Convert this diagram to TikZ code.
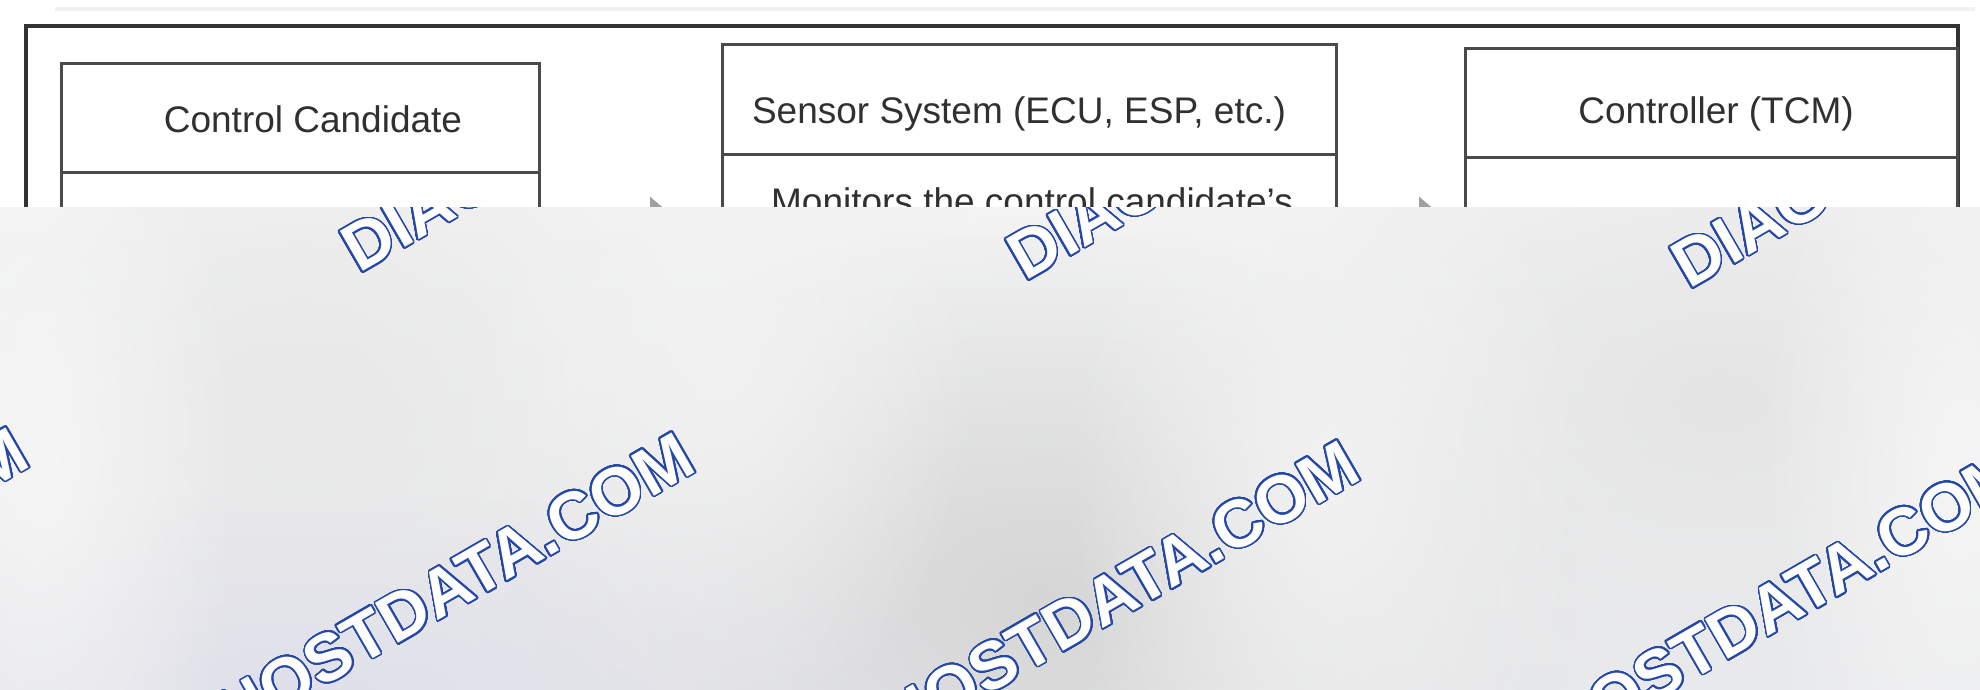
\documentclass[tikz,border=0pt]{standalone}
\usepackage{fontspec}
\setmainfont{Liberation Sans}
\usepackage{contour}
\usetikzlibrary{arrows.meta,fadings}
\contourlength{1.6pt}
\contournumber{48}
\definecolor{boxgray}{HTML}{4A4A4A}
\definecolor{framegray}{HTML}{333333}
\definecolor{txtgray}{HTML}{303030}
\definecolor{arrgray}{HTML}{A0A0A0}
\definecolor{wmblue}{HTML}{2447A8}
\definecolor{faintgray}{HTML}{F1F1F1}
\definecolor{panTop}{HTML}{F3F3F3}
\definecolor{panBot}{HTML}{E9EAED}
\tikzfading[name=softblob, inner color=transparent!0, outer color=transparent!100]
\newcommand\wmtext{\color{white}\contour{wmblue}{DIAGNOSTDATA.COM}}
\begin{document}
\begin{tikzpicture}[x=1pt,y=-1pt,
  framebox/.style={draw=framegray, line width=4pt, rectangle, inner sep=0pt, anchor=north west},
  sbox/.style={draw=boxgray, line width=3pt, rectangle, inner sep=0pt, anchor=north west},
  ttl/.style={font=\fontsize{37}{44}\selectfont, text=txtgray, inner sep=0pt, anchor=base},
  arr/.style={draw=arrgray, line width=3pt, -{Triangle[length=24pt,width=40pt]}},
  wm/.style={font=\fontsize{67}{70}\selectfont\bfseries, inner sep=0pt, rotate=30},
  blob/.style={path fading=softblob, fit fading=true}]
\useasboundingbox (0,0) rectangle (1980,690);
\fill[white] (0,0) rectangle (1980,690);
\draw[faintgray, line width=4pt] (55,9) -- (1975,9);
% outer frame
\node[framebox, minimum width=1932pt, minimum height=700pt] (frame) at (24,24) {};
% boxes
\node[sbox, minimum width=478pt, minimum height=109pt] (h1) at (60,62) {};
\node[sbox, minimum width=478pt, minimum height=600pt] (b1) at (60,171) {};
\node[sbox, minimum width=614pt, minimum height=110pt] (h2) at (721,43) {};
\node[sbox, minimum width=614pt, minimum height=600pt] (b2) at (721,153) {};
\node[sbox, minimum width=492pt, minimum height=109pt] (h3) at (1464,47) {};
\node[sbox, minimum width=492pt, minimum height=600pt] (b3) at (1464,156) {};
% texts
\node[ttl] (t1) at (313,132) {Control Candidate};
\node[ttl] (t2) at (1019,124) {Sensor System (ECU, ESP, etc.)};
\node[ttl] (t3) at (1716,124) {Controller (TCM)};
\node[ttl] (m2) at (1032,214.5) {Monitors the control candidate's};
% arrows
\coordinate (ay) at (0,217);
\draw[arr, shorten <=52pt, shorten >=47pt] (b1.east |- ay) -- (b2.west |- ay);
\draw[arr, shorten <=22pt, shorten >=21pt] (b2.east |- ay) -- (b3.west |- ay);
% grey panel
\shade[top color=panTop, bottom color=panBot] (0,207) rectangle (1980,690);
\begin{scope}
\clip (0,207) rectangle (1980,690);
\fill[black!16, blob] (1040,600) ellipse (560pt and 380pt);
\fill[black!9, blob] (300,420) ellipse (400pt and 360pt);
\fill[black!10, blob] (1720,400) ellipse (500pt and 340pt);
\fill[blue!30!black!12, blob] (300,690) ellipse (700pt and 200pt);
\fill[black!4, blob] (40,450) ellipse (200pt and 500pt);
\fill[black!4, blob] (1960,480) ellipse (200pt and 500pt);
\fill[black!5, blob] (1330,470) ellipse (260pt and 500pt);
\fill[black!5, blob] (720,350) ellipse (260pt and 400pt);
% watermark
\foreach \x/\y [count=\i] in {359/274, 1025/282, 1689/290}
  \node[wm, anchor=base west] (wmu\i) at (\x,\y) {\wmtext};
\foreach \x/\y [count=\i] in {33/465, 699/470, 1364/478, 2029/486}
  \node[wm, anchor=base east] (wml\i) at (\x,\y) {\wmtext};
\end{scope}
\end{tikzpicture}
\end{document}
